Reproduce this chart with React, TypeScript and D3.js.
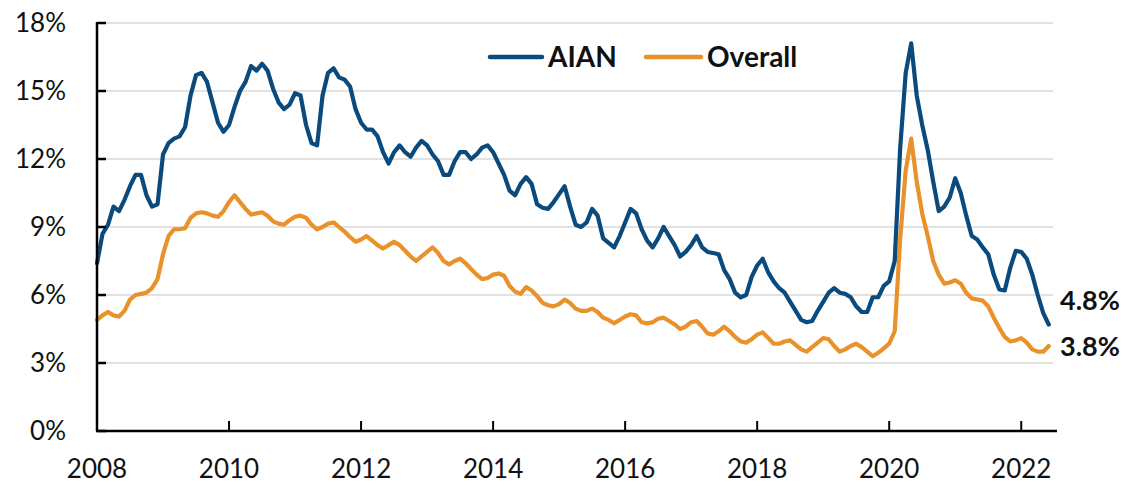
import * as d3 from "d3";

// monthly rates, Jan 2008 onward (%)
const aian = [
  7.4, 8.7, 9.1, 9.9, 9.7, 10.2, 10.8, 11.3, 11.3, 10.4, 9.9, 10.0,
  12.2, 12.7, 12.9, 13.0, 13.4, 14.8, 15.7, 15.8, 15.4, 14.5, 13.6, 13.2,
  13.5, 14.3, 15.0, 15.4, 16.1, 15.9, 16.2, 15.9, 15.1, 14.5, 14.2, 14.4,
  14.9, 14.8, 13.5, 12.7, 12.6, 14.8, 15.8, 16.0, 15.6, 15.5, 15.2, 14.2,
  13.6, 13.3, 13.3, 13.0, 12.3, 11.8, 12.3, 12.6, 12.3, 12.1, 12.5, 12.8,
  12.6, 12.2, 11.9, 11.3, 11.3, 11.9, 12.3, 12.3, 12.0, 12.2, 12.5, 12.6,
  12.3, 11.8, 11.3, 10.6, 10.4, 10.9, 11.2, 10.9, 10.0, 9.85, 9.8, 10.1,
  10.45, 10.8, 9.9, 9.1, 9.0, 9.2, 9.8, 9.5, 8.5, 8.3, 8.1, 8.6,
  9.2, 9.8, 9.6, 8.9, 8.4, 8.1, 8.5, 9.0, 8.6, 8.2, 7.7, 7.9,
  8.2, 8.6, 8.1, 7.9, 7.85, 7.8, 7.1, 6.7, 6.1, 5.9, 6.0, 6.8,
  7.3, 7.6, 7.0, 6.6, 6.3, 6.1, 5.7, 5.3, 4.9, 4.8, 4.85, 5.3,
  5.7, 6.1, 6.3, 6.1, 6.05, 5.9, 5.5, 5.25, 5.25, 5.9, 5.9, 6.4,
  6.6, 7.5, 12.5, 15.8, 17.1, 14.8, 13.5, 12.4, 11.0, 9.7, 9.9, 10.3,
  11.15, 10.5, 9.5, 8.6, 8.45, 8.1, 7.8, 6.9, 6.25, 6.2, 7.2, 7.95,
  7.9, 7.6, 6.9, 6.0, 5.2, 4.7,
];

const overall = [
  4.9, 5.1, 5.25, 5.1, 5.05, 5.3, 5.8, 6.0, 6.05, 6.1, 6.3, 6.7,
  7.8, 8.6, 8.9, 8.9, 8.95, 9.4, 9.6, 9.65, 9.6, 9.5, 9.45, 9.7,
  10.1, 10.4, 10.1, 9.8, 9.55, 9.6, 9.65, 9.5, 9.25, 9.15, 9.1, 9.3,
  9.45, 9.5, 9.4, 9.1, 8.9, 9.0, 9.15, 9.2, 9.0, 8.8, 8.55, 8.35,
  8.45, 8.6, 8.4, 8.2, 8.05, 8.2, 8.35, 8.2, 7.95, 7.7, 7.5, 7.7,
  7.9, 8.1, 7.85, 7.5, 7.35, 7.5, 7.6, 7.4, 7.15, 6.9, 6.7, 6.75,
  6.9, 6.95, 6.85, 6.4, 6.15, 6.05, 6.35, 6.2, 5.95, 5.65, 5.55, 5.5,
  5.6, 5.8, 5.65, 5.4, 5.3, 5.3, 5.4, 5.25, 5.0, 4.9, 4.75, 4.9,
  5.05, 5.15, 5.1, 4.8, 4.75, 4.8, 4.95, 5.0, 4.85, 4.7, 4.5, 4.6,
  4.8, 4.85, 4.6, 4.3, 4.25, 4.4, 4.6, 4.4, 4.15, 3.95, 3.9, 4.05,
  4.25, 4.35, 4.1, 3.85, 3.85, 3.95, 4.0, 3.8, 3.6, 3.5, 3.7, 3.9,
  4.1, 4.05, 3.75, 3.5, 3.6, 3.75, 3.85, 3.7, 3.5, 3.3, 3.45, 3.65,
  3.85, 4.4, 8.5, 11.5, 12.9, 11.0, 9.6, 8.6, 7.5, 6.9, 6.5, 6.55,
  6.65, 6.5, 6.1, 5.85, 5.8, 5.75, 5.5, 5.0, 4.55, 4.15, 3.95, 4.0,
  4.1, 3.9, 3.6, 3.5, 3.5, 3.75,
];

const yearTicks = [2008, 2010, 2012, 2014, 2016, 2018, 2020, 2022];
const pctTicks = [0, 3, 6, 9, 12, 15, 18];
const endLabels = ["4.8%", "3.8%"];

const width = 1125;
const height = 486;
const margin = { top: 23, right: 68, bottom: 55, left: 97 };

const BLUE = "#0A4A7C";
const ORANGE = "#E9922B";
const font = "Lato, 'Open Sans', sans-serif";

const App = () => {
  const x = d3
    .scaleLinear()
    .domain([2008, 2022 + 6.5 / 12])
    .range([margin.left, width - margin.right]);
  const y = d3
    .scaleLinear()
    .domain([0, 18])
    .range([height - margin.bottom, margin.top]);

  const line = d3
    .line<number>()
    .x((_, i) => x(2008 + i / 12))
    .y((d) => y(d))
    .curve(d3.curveLinear);

  const x0 = x.range()[0];
  const x1 = x.range()[1];
  const yBase = y(0);

  return (
    <div style={{ position: "absolute", left: 0, top: 0 }}>
      <svg width={width} height={height} style={{ display: "block", background: "#fff" }}>
        {/* gridlines */}
        {pctTicks.slice(1).map((t) => (
          <line key={t} x1={x0} x2={x1 - 4} y1={y(t)} y2={y(t)} stroke="#d9d9d9" strokeWidth={1.5} />
        ))}

        {/* series */}
        <path d={line(overall) ?? ""} fill="none" stroke={ORANGE} strokeWidth={4.2} strokeLinejoin="round" strokeLinecap="round" />
        <path d={line(aian) ?? ""} fill="none" stroke={BLUE} strokeWidth={4.2} strokeLinejoin="round" strokeLinecap="round" />

        {/* axes */}
        <line x1={x0} x2={x0} y1={y(18) - 1} y2={yBase} stroke="#000" strokeWidth={2.5} />
        <line x1={x0 - 1} x2={x1} y1={yBase} y2={yBase} stroke="#000" strokeWidth={2.5} />
        {pctTicks.map((t) => (
          <g key={t}>
            <line x1={x0} x2={x0 + 9} y1={y(t)} y2={y(t)} stroke="#000" strokeWidth={2.5} />
            <text x={66} y={y(t)} dy="0.35em" textAnchor="end" fontFamily={font} fontSize={26} fill="#111">
              {t}%
            </text>
          </g>
        ))}
        {yearTicks.map((t) => (
          <g key={t}>
            {t > 2008 && <line x1={x(t)} x2={x(t)} y1={yBase} y2={yBase - 10} stroke="#000" strokeWidth={2} />}
            <text x={x(t)} y={478} textAnchor="middle" fontFamily={font} fontSize={26} fill="#111">
              {t}
            </text>
          </g>
        ))}

        {/* legend */}
        <line x1={490} x2={542} y1={57} y2={57} stroke={BLUE} strokeWidth={4.5} strokeLinecap="round" />
        <text x={548} y={67} fontFamily={font} fontWeight="bold" fontSize={28} fill="#111">
          AIAN
        </text>
        <line x1={646} x2={701} y1={57} y2={57} stroke={ORANGE} strokeWidth={4.5} strokeLinecap="round" />
        <text x={707} y={67} fontFamily={font} fontWeight="bold" fontSize={28} fill="#111">
          Overall
        </text>

        {/* end labels */}
        <text x={1060} y={y(aian[aian.length - 1]) - 24} dy="0.35em" fontFamily={font} fontWeight="bold" fontSize={27} fill="#111">
          {endLabels[0]}
        </text>
        <text x={1060} y={y(overall[overall.length - 1]) + 1} dy="0.35em" fontFamily={font} fontWeight="bold" fontSize={27} fill="#111">
          {endLabels[1]}
        </text>
      </svg>
    </div>
  );
};

export default App;
